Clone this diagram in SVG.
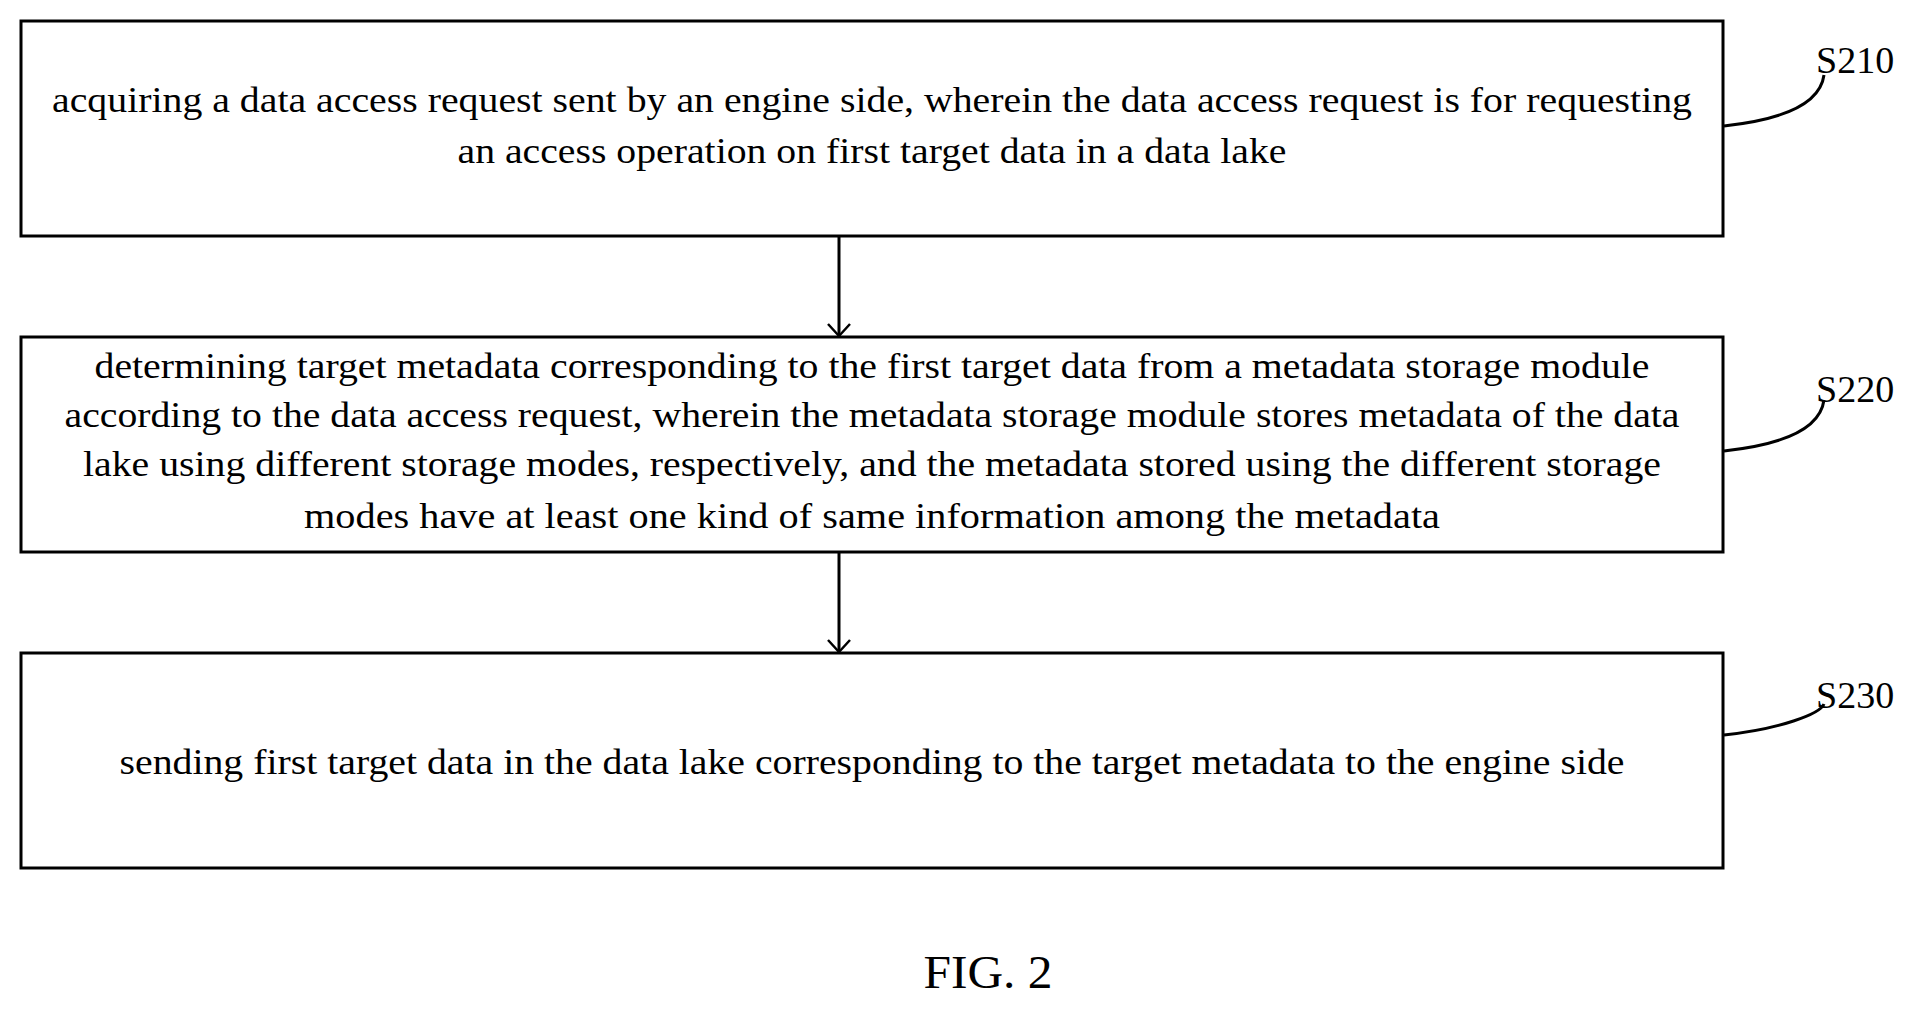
<svg xmlns="http://www.w3.org/2000/svg" width="1920" height="1009" viewBox="0 0 1920 1009">
<style>
.box{fill:#fff;stroke:#000;stroke-width:3}
.t{font-family:"Liberation Serif",serif;font-size:36px;text-anchor:middle;fill:#000}
.lb{font-family:"Liberation Serif",serif;font-size:38px;fill:#000}
.c{fill:none;stroke:#000;stroke-width:3}
</style>
<defs><marker id="a" markerWidth="24" markerHeight="16" refX="12" refY="14" orient="0" markerUnits="userSpaceOnUse"><path d="M1,2 L12,14 L23,2" fill="none" stroke="#000" stroke-width="2.5"/></marker></defs>
<rect width="1920" height="1009" fill="#fff"/>
<g id="s210"><rect class="box" x="21" y="21" width="1702" height="215"/>
<text class="t" x="872" y="112" textLength="1640" lengthAdjust="spacingAndGlyphs">acquiring a data access request sent by an engine side, wherein the data access request is for requesting</text>
<text class="t" x="872" y="163" textLength="829" lengthAdjust="spacingAndGlyphs">an access operation on first target data in a data lake</text>
<text class="lb" x="1816" y="73">S210</text></g>
<g id="s220"><rect class="box" x="21" y="337" width="1702" height="215"/>
<text class="t" x="872" y="378" textLength="1555" lengthAdjust="spacingAndGlyphs">determining target metadata corresponding to the first target data from a metadata storage module</text>
<text class="t" x="872" y="427" textLength="1615" lengthAdjust="spacingAndGlyphs">according to the data access request, wherein the metadata storage module stores metadata of the data</text>
<text class="t" x="872" y="476" textLength="1578" lengthAdjust="spacingAndGlyphs">lake using different storage modes, respectively, and the metadata stored using the different storage</text>
<text class="t" x="872" y="528" textLength="1136" lengthAdjust="spacingAndGlyphs">modes have at least one kind of same information among the metadata</text>
<text class="lb" x="1816" y="402">S220</text></g>
<g id="s230"><rect class="box" x="21" y="653" width="1702" height="215"/>
<text class="t" x="872" y="774" textLength="1505" lengthAdjust="spacingAndGlyphs">sending first target data in the data lake corresponding to the target metadata to the engine side</text>
<text class="lb" x="1816" y="708">S230</text></g>
<g id="fig"><text class="t" style="font-size:46px" x="988" y="988" textLength="129" lengthAdjust="spacingAndGlyphs">FIG. 2</text></g>
<g id="connectors">
<line class="c" x1="839" y1="236" x2="839" y2="336" marker-end="url(#a)"/>
<line class="c" x1="839" y1="552" x2="839" y2="652" marker-end="url(#a)"/>
<path class="c" d="M1724,126 C1780,120 1820,105 1824,75"/>
<path class="c" d="M1724,451 C1780,445 1820,430 1824,400"/>
<path class="c" d="M1724,735 C1780,729 1820,714 1824,704"/>
</g>
</svg>
